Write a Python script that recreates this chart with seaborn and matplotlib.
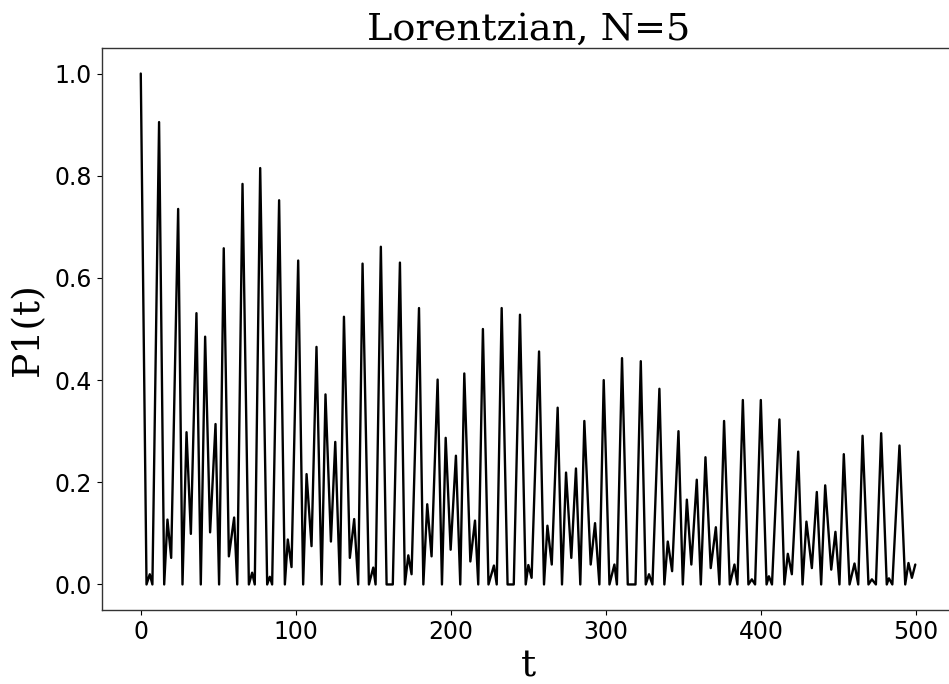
import matplotlib
matplotlib.use("Agg")
import matplotlib.pyplot as plt
import seaborn as sns
import pandas as pd

# Key points (t, P1(t))
t_vals = [0, 3.7, 5.8, 7.5, 11.8, 15.1, 17.2, 19.6, 24.1, 26.9, 29.5, 32.3, 35.9, 38.7,
          41.5, 44.7, 48.2, 50.5, 53.5, 56.8, 60.2, 62.2, 65.6, 69.7, 71.8, 73.5, 77.0,
          81.5, 83.2, 84.7, 89.2, 92.9, 94.8, 97.2, 101.5, 104.7, 106.9, 110.1, 113.3,
          116.6, 119.1, 122.6, 125.4, 128.4, 131.0, 134.8, 137.6, 140.2, 143.0, 147.1,
          149.9, 151.4, 154.8, 158.5, 162.5, 167.1, 170.3, 172.5, 174.6, 179.4, 182.2,
          184.7, 187.5, 191.4, 194.2, 196.6, 199.8, 203.2, 206.0, 208.6, 212.5, 215.5,
          217.6, 220.6, 224.2, 227.7, 229.5, 232.7, 236.5, 240.5, 244.5, 248.2, 249.9,
          252.0, 256.8, 260.0, 262.2, 265.0, 268.8, 271.6, 274.2, 277.6, 280.6, 283.4,
          286.0, 290.1, 292.9, 295.7, 298.5, 302.2, 305.4, 307.0, 310.3, 314.0, 319.0,
          322.4, 325.6, 327.7, 329.9, 334.4, 337.6, 339.8, 342.6, 346.7, 349.5, 352.1,
          355.0, 358.5, 361.1, 364.1, 367.5, 370.8, 373.1, 376.1, 379.8, 382.8, 384.7,
          388.2, 391.8, 394.0, 396.1, 399.8, 403.5, 405.0, 407.0, 411.8, 415.0, 417.2,
          419.8, 423.9, 426.7, 429.2, 432.7, 435.9, 438.7, 441.3, 445.2, 447.9, 450.5,
          453.3, 457.0, 460.2, 462.6, 465.4, 469.2, 471.4, 474.0, 477.4, 481.0, 482.4,
          484.6, 489.2, 492.9, 495.0, 497.2, 499.4]
p_vals = [1.0, 0.0, 0.02, 0.0, 0.905, 0.0, 0.127, 0.052, 0.735, 0.0, 0.298, 0.099, 0.531, 0.0,
          0.485, 0.102, 0.314, 0.0, 0.658, 0.055, 0.131, 0.0, 0.784, 0.0, 0.023, 0.0, 0.815,
          0.0, 0.015, 0.0, 0.752, 0.0, 0.088, 0.034, 0.634, 0.0, 0.216, 0.075, 0.465,
          0.0, 0.372, 0.084, 0.279, 0.0, 0.524, 0.052, 0.128, 0.0, 0.628, 0.0,
          0.033, 0.0, 0.661, 0.0, 0.0, 0.630, 0.0, 0.057, 0.020, 0.541, 0.0,
          0.157, 0.055, 0.401, 0.0, 0.287, 0.068, 0.252, 0.0, 0.413, 0.045, 0.125,
          0.0, 0.500, 0.0, 0.037, 0.0, 0.541, 0.0, 0.0, 0.528, 0.0, 0.038,
          0.013, 0.456, 0.0, 0.115, 0.039, 0.346, 0.0, 0.219, 0.052, 0.227, 0.0,
          0.320, 0.039, 0.120, 0.0, 0.400, 0.0, 0.039, 0.0, 0.443, 0.0, 0.0,
          0.437, 0.0, 0.02, 0.0, 0.383, 0.0, 0.084, 0.026, 0.300, 0.0, 0.166,
          0.039, 0.205, 0.0, 0.249, 0.032, 0.112, 0.0, 0.320, 0.0, 0.039, 0.0,
          0.361, 0.0, 0.01, 0.0, 0.361, 0.0, 0.016, 0.0, 0.323, 0.0, 0.060,
          0.020, 0.260, 0.0, 0.123, 0.032, 0.181, 0.0, 0.194, 0.029, 0.103, 0.0,
          0.255, 0.0, 0.041, 0.0, 0.291, 0.0, 0.01, 0.0, 0.296, 0.0, 0.012,
          0.0, 0.272, 0.0, 0.042, 0.013, 0.039]

x_ticks = [0, 100, 200, 300, 400, 500]
y_ticks = [0.0, 0.2, 0.4, 0.6, 0.8, 1.0]

sns.set_style("ticks")
plt.rcParams['font.family'] = ['DejaVu Sans']
plt.rcParams['text.color'] = 'black'
plt.rcParams['axes.labelcolor'] = 'black'

df = pd.DataFrame({"t": t_vals, "P1": p_vals})

fig = plt.figure(figsize=(9.49, 6.84), dpi=100)
ax = fig.add_axes([102 / 949, 74 / 684, 853 / 949, 562 / 684])
sns.lineplot(data=df, x="t", y="P1", color="black", linewidth=1.7, ax=ax)

ax.set_xlim(-25, 525)
ax.set_ylim(-0.05, 1.05)
ax.set_xticks(x_ticks)
ax.set_yticks(y_ticks)
ax.set_yticklabels([f"{v:.1f}" for v in y_ticks])
ax.tick_params(labelsize=17, length=3.5, width=0.8, colors="black", pad=4)
for s in ax.spines.values():
    s.set_color("#333333")
    s.set_linewidth(1.0)

ax.set_title("Lorentzian, N=5", fontsize=27.5, family="DejaVu Serif", color="black", pad=5)
ax.set_xlabel("t", fontsize=27, family="DejaVu Serif", labelpad=3)
ax.set_ylabel("P1(t)", fontsize=27, family="DejaVu Serif", labelpad=6)

fig.savefig("out.png", dpi=100)
